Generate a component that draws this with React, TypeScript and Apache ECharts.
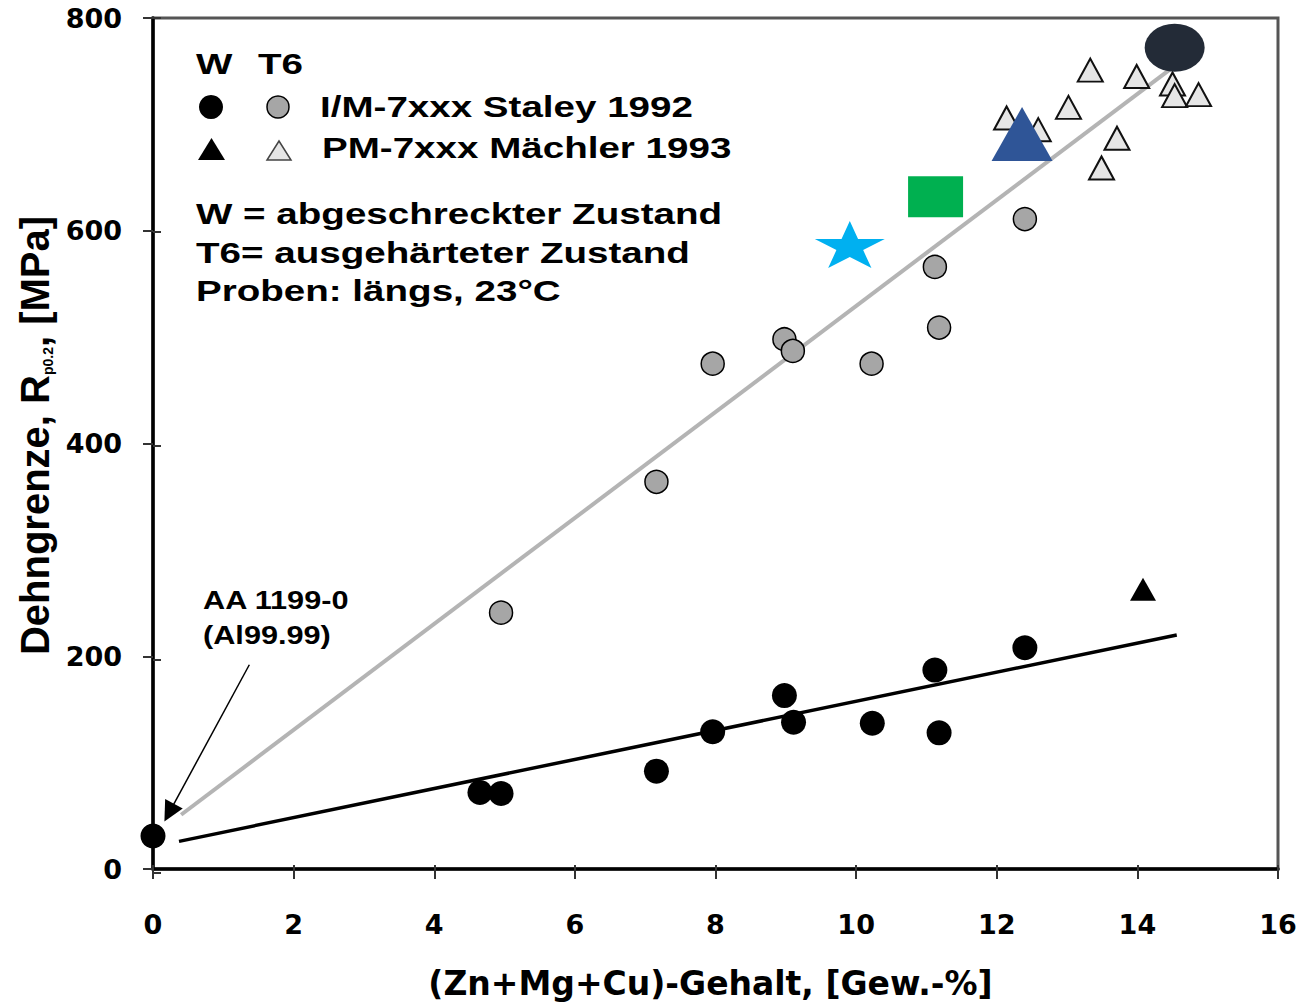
import React, { useEffect, useRef } from "react";
import * as echarts from "echarts";

// ---- data ----
const xTicks = [0, 2, 4, 6, 8, 10, 12, 14, 16];
const yTicks = [0, 200, 400, 600, 800];

// W state, I/M-7xxx (Staley 1992) – black circles
const wImX = [0, 4.65, 4.95, 7.16, 7.96, 8.98, 9.11, 10.23, 11.12, 11.18, 12.4];
const wImY = [31, 72, 71, 92, 129, 163, 138, 137, 187, 128, 208];

// T6 state, I/M-7xxx (Staley 1992) – grey circles
const t6ImX = [4.95, 7.16, 7.96, 8.98, 9.1, 10.22, 11.12, 11.18, 12.4];
const t6ImY = [241, 364, 475, 498, 487, 475, 566, 509, 611];

// W state, PM-7xxx (Mächler 1993) – black triangle
const wPmX = [14.08];
const wPmY = [263];

// T6 state, PM-7xxx (Mächler 1993) – open triangles
const t6PmX = [13.33, 13.99, 14.5, 14.53, 14.87, 13.02, 12.14, 12.59, 13.71, 13.49];
const t6PmY = [751, 745, 738, 727, 728, 716, 706, 695, 687, 659];

// regression lines
const t6FitX = [0.4, 14.55];
const t6FitY = [51, 756];
const wFitX = [0.37, 14.56];
const wFitY = [26, 220];

// highlighted markers
const starPt = [9.91, 587];
const squarePt = [11.13, 632];
const bigTriPt = [12.36, 691];
const ellipsePt = [14.53, 772];

// annotation arrow
const arrowStart = [1.37, 192];
const arrowEnd = [0.23, 53];

const pairs = (xs: number[], ys: number[]) => xs.map((x, i) => [x, ys[i]]);

const STAR =
  "path://M50,0L61.8,38.2L100,38.2L69.1,61.8L80.9,100L50,76.4L19.1,100L30.9,61.8L0,38.2L38.2,38.2Z";
const ELLIPSE = "path://M0,50A50,50,0,1,1,100,50A50,50,0,1,1,0,50Z";

const TXT_FONT = '"Liberation Sans", Arial, sans-serif';
const TICK_FONT = '"DejaVu Sans", sans-serif';

const GRID = { left: 153, right: 22, top: 18, bottom: 132 };

function txt(text: string, x: number, y: number, size = 29, sx = 1.33) {
  return {
    type: "text",
    x,
    y,
    scaleX: sx,
    z: 100,
    silent: true,
    style: {
      text,
      fill: "#000",
      fontFamily: TXT_FONT,
      fontWeight: "bold",
      fontSize: size,
      align: "left",
      verticalAlign: "middle",
      textAlign: "left",
      textVerticalAlign: "middle",
    },
  };
}

export default function App() {
  const ref = useRef<HTMLDivElement>(null);

  useEffect(() => {
    if (!ref.current) return;
    const chart = echarts.init(ref.current, null, { renderer: "svg" });

    const tickLabel = {
      fontFamily: TICK_FONT,
      fontWeight: "bold",
      fontSize: 27,
      color: "#000",
    };
    const tickStyle = { color: "#333", width: 2 };

    const option: any = {
      animation: false,
      backgroundColor: "#fff",
      grid: [
        {
          ...GRID,
          show: true,
          borderColor: "#555",
          borderWidth: 3,
          backgroundColor: "transparent",
        },
        { ...GRID, show: false },
      ],
      xAxis: [
        {
          type: "value",
          gridIndex: 0,
          min: xTicks[0],
          max: xTicks[xTicks.length - 1],
          interval: 2,
          axisLine: { show: true, onZero: false, lineStyle: { color: "#000", width: 3.5 } },
          axisTick: { show: true, length: 10, lineStyle: tickStyle },
          axisLabel: { ...tickLabel, margin: 42 },
          splitLine: { show: false },
          name: "(Zn+Mg+Cu)-Gehalt, [Gew.-%]",
          nameLocation: "middle",
          nameGap: 98,
          nameTextStyle: {
            fontFamily: TICK_FONT,
            fontWeight: "bold",
            fontSize: 33,
            color: "#000",
            padding: [0, 10, 0, 0],
          },
        },
        {
          type: "value",
          gridIndex: 1,
          min: xTicks[0],
          max: xTicks[xTicks.length - 1],
          interval: 2,
          axisLine: { show: false, onZero: false },
          axisTick: { show: true, inside: true, length: 8, lineStyle: tickStyle },
          axisLabel: { show: false },
          splitLine: { show: false },
        },
      ],
      yAxis: [
        {
          type: "value",
          gridIndex: 0,
          min: yTicks[0],
          max: yTicks[yTicks.length - 1],
          interval: 200,
          axisLine: { show: true, onZero: false, lineStyle: { color: "#000", width: 3.5 } },
          axisTick: { show: true, length: 10, lineStyle: tickStyle },
          axisLabel: { ...tickLabel, margin: 31 },
          splitLine: { show: false },
          name: "Dehngrenze, R{sub|p0.2}, [MPa]",
          nameLocation: "middle",
          nameRotate: 90,
          nameGap: 92,
          nameTextStyle: {
            fontFamily: TXT_FONT,
            fontWeight: "bold",
            fontSize: 40,
            color: "#000",
            padding: [0, 0, 0, 16],
            rich: {
              sub: {
                fontFamily: TXT_FONT,
                fontWeight: "bold",
                fontSize: 14,
                color: "#000",
                verticalAlign: "bottom",
              },
            },
          },
        },
        {
          type: "value",
          gridIndex: 1,
          min: yTicks[0],
          max: yTicks[yTicks.length - 1],
          interval: 200,
          axisLine: { show: false, onZero: false },
          axisTick: { show: true, inside: true, length: 8, lineStyle: tickStyle },
          axisLabel: { show: false },
          splitLine: { show: false },
        },
      ],
      series: [
        {
          name: "T6 Fit",
          type: "line",
          data: pairs(t6FitX, t6FitY),
          symbol: "none",
          lineStyle: { color: "#b4b4b4", width: 4 },
          silent: true,
          z: 1,
        },
        {
          name: "W Fit",
          type: "line",
          data: pairs(wFitX, wFitY),
          symbol: "none",
          lineStyle: { color: "#000", width: 3.5 },
          silent: true,
          z: 1,
          markLine: {
            silent: true,
            symbol: ["none", "triangle"],
            symbolSize: 20,
            lineStyle: { color: "#000", width: 1.5, type: "solid" },
            itemStyle: { color: "#000" },
            label: { show: false },
            data: [[{ coord: arrowStart }, { coord: arrowEnd }]],
          },
        },
        {
          name: "W I/M-7xxx Staley 1992",
          type: "scatter",
          data: pairs(wImX, wImY),
          symbol: "circle",
          symbolSize: 25,
          itemStyle: { color: "#000", opacity: 1 },
          z: 3,
        },
        {
          name: "T6 I/M-7xxx Staley 1992",
          type: "scatter",
          data: pairs(t6ImX, t6ImY),
          symbol: "circle",
          symbolSize: 23,
          itemStyle: { color: "#a6a6a6", borderColor: "#000", borderWidth: 1.5, opacity: 1 },
          z: 3,
        },
        {
          name: "W PM-7xxx Mächler 1993",
          type: "scatter",
          data: pairs(wPmX, wPmY),
          symbol: "triangle",
          symbolSize: [26, 23],
          itemStyle: { color: "#000", opacity: 1 },
          z: 3,
        },
        {
          name: "T6 PM-7xxx Mächler 1993",
          type: "scatter",
          data: pairs(t6PmX, t6PmY),
          symbol: "triangle",
          symbolSize: [25, 23],
          itemStyle: { color: "#e6e6e6", borderColor: "#111", borderWidth: 2, opacity: 1 },
          z: 3,
        },
        {
          name: "Stern",
          type: "scatter",
          data: [starPt],
          symbol: STAR,
          symbolSize: [70, 47],
          itemStyle: { color: "#00b0f0", opacity: 1 },
          z: 4,
        },
        {
          name: "Quadrat",
          type: "scatter",
          data: [squarePt],
          symbol: "rect",
          symbolSize: [55, 41],
          itemStyle: { color: "#00b050", opacity: 1 },
          z: 4,
        },
        {
          name: "Dreieck",
          type: "scatter",
          data: [bigTriPt],
          symbol: "triangle",
          symbolSize: [61, 54],
          itemStyle: { color: "#2f5597", opacity: 1 },
          z: 4,
        },
        {
          name: "Ellipse",
          type: "scatter",
          data: [ellipsePt],
          symbol: ELLIPSE,
          symbolSize: [60, 48],
          itemStyle: { color: "#232b37", opacity: 1 },
          z: 4,
        },
      ],
      graphic: [
        txt("W", 196, 64),
        txt("T6", 258, 64),
        { type: "circle", shape: { cx: 211, cy: 107, r: 12 }, style: { fill: "#000" }, z: 100 },
        {
          type: "circle",
          shape: { cx: 278, cy: 107, r: 11 },
          style: { fill: "#a6a6a6", stroke: "#000", lineWidth: 1.5 },
          z: 100,
        },
        txt("I/M-7xxx Staley 1992", 320, 107),
        {
          type: "polygon",
          shape: { points: [[198, 160], [225, 160], [211.5, 138]] },
          style: { fill: "#000" },
          z: 100,
        },
        {
          type: "polygon",
          shape: { points: [[267, 160], [291, 160], [279, 141]] },
          style: { fill: "#e6e6e6", stroke: "#444", lineWidth: 1.5 },
          z: 100,
        },
        txt("PM-7xxx Mächler 1993", 322, 148),
        txt("W = abgeschreckter Zustand", 196, 214),
        txt("T6= ausgehärteter Zustand", 196, 253),
        txt("Proben: längs, 23°C", 196, 291),
        txt("AA 1199-0", 203, 600, 26, 1.18),
        txt("(Al99.99)", 203, 635, 26, 1.18),
      ],
    };

    chart.setOption(option);
    return () => chart.dispose();
  }, []);

  return (
    <div
      ref={ref}
      style={{ position: "fixed", left: 0, top: 0, width: 1300, height: 1005, background: "#fff" }}
    />
  );
}
